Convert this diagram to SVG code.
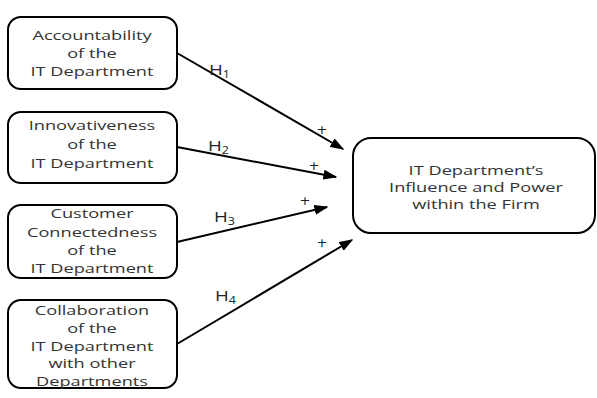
<svg xmlns="http://www.w3.org/2000/svg" width="597" height="398" viewBox="0 0 597 398">
<defs>
<style>
.box{fill:#fff;stroke:#000;stroke-width:2}
.t{font-family:"Open Sans","DejaVu Sans",sans-serif;font-size:13px;fill:#333;text-anchor:middle}
.l{font-family:"Open Sans","DejaVu Sans",sans-serif;font-size:15px;fill:#222}
.s{font-size:10px}
.p{font-family:"DejaVu Sans",sans-serif;font-size:13px;fill:#222;text-anchor:middle}
.c{stroke:#000;stroke-width:2;fill:none;marker-end:url(#ah)}
</style>
<marker id="ah" viewBox="0 0 10 10" refX="9" refY="5" markerWidth="14" markerHeight="10" markerUnits="userSpaceOnUse" orient="auto" preserveAspectRatio="none">
<path d="M0,0 L10,5 L0,10 z" fill="#000"/>
</marker>
</defs>
<rect width="597" height="398" fill="#fff"/>
<g id="n1"><rect class="box" x="8" y="17" width="169" height="72" rx="13"/>
<g transform="translate(92,0) scale(1.4,1)"><text class="t" x="0" y="40">Accountability</text><text class="t" x="0" y="58">of the</text><text class="t" x="0" y="76">IT Department</text></g></g>
<g id="n2"><rect class="box" x="8" y="112" width="169" height="71" rx="13"/>
<g transform="translate(92,0) scale(1.4,1)"><text class="t" x="0" y="130">Innovativeness</text><text class="t" x="0" y="149">of the</text><text class="t" x="0" y="168">IT Department</text></g></g>
<g id="n3"><rect class="box" x="8" y="205" width="169" height="73" rx="13"/>
<g transform="translate(92,0) scale(1.4,1)"><text class="t" x="0" y="218">Customer</text><text class="t" x="0" y="237">Connectedness</text><text class="t" x="0" y="255">of the</text><text class="t" x="0" y="273">IT Department</text></g></g>
<g id="n4"><rect class="box" x="8" y="300" width="169" height="88" rx="13"/>
<g transform="translate(92,0) scale(1.4,1)"><text class="t" x="0" y="315">Collaboration</text><text class="t" x="0" y="333">of the</text><text class="t" x="0" y="351">IT Department</text><text class="t" x="0" y="368">with other</text><text class="t" x="0" y="386">Departments</text></g></g>
<g id="n5"><rect class="box" x="353" y="138" width="242" height="95" rx="18"/>
<g transform="translate(476,0) scale(1.4,1)"><text class="t" x="0" y="175">IT Department’s</text><text class="t" x="0" y="192">Influence and Power</text><text class="t" x="0" y="209">within the Firm</text></g></g>
<g id="connectors">
<line class="c" x1="177" y1="53" x2="343" y2="149"/>
<line class="c" x1="177" y1="147" x2="336" y2="177"/>
<line class="c" x1="177" y1="242" x2="327" y2="207"/>
<line class="c" x1="177" y1="344" x2="352" y2="240"/>
<g transform="translate(209,0) scale(1.25,1)"><text class="l" x="0" y="75">H<tspan class="s" dy="3">1</tspan></text></g>
<g transform="translate(208,0) scale(1.25,1)"><text class="l" x="0" y="151">H<tspan class="s" dy="3">2</tspan></text></g>
<g transform="translate(214,0) scale(1.25,1)"><text class="l" x="0" y="222">H<tspan class="s" dy="3">3</tspan></text></g>
<g transform="translate(215,0) scale(1.25,1)"><text class="l" x="0" y="301">H<tspan class="s" dy="3">4</tspan></text></g>
<text class="p" x="322" y="134">+</text>
<text class="p" x="314" y="170">+</text>
<text class="p" x="305" y="205">+</text>
<text class="p" x="322" y="247">+</text>
</g>
</svg>
